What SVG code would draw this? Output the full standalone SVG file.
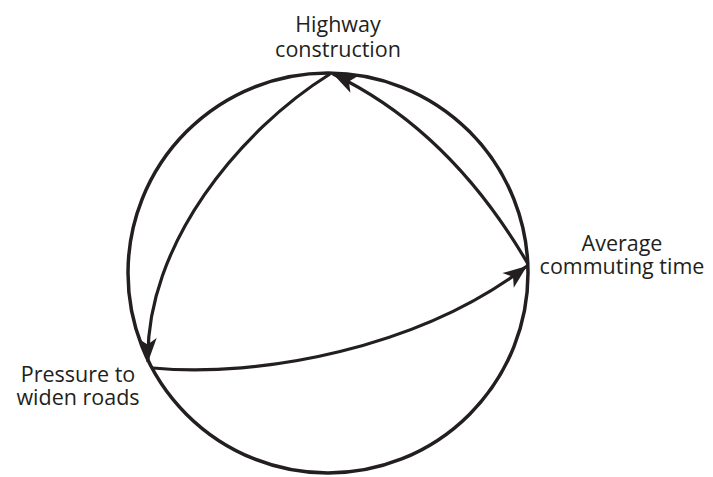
<svg xmlns="http://www.w3.org/2000/svg" width="713" height="477" viewBox="0 0 713 477">
<style>
.lbl{font-family:"Open Sans","Liberation Sans",sans-serif;font-size:21.5px;fill:#231f20;text-anchor:middle}
.edge{fill:none;stroke:#231f20;stroke-width:3.2}
.ring{fill:none;stroke:#231f20;stroke-width:3.5}
</style>
<defs>
<marker id="ah" markerUnits="userSpaceOnUse" markerWidth="30" markerHeight="30" viewBox="-26 -13 29 26" refX="0" refY="0" orient="auto">
<path d="M0,0 L-23,-9 L-17,0 L-23,9 Z" fill="#231f20"/>
</marker>
</defs>
<rect width="713" height="477" fill="#fff"/>
<circle class="ring" cx="328" cy="273" r="200"/>
<g id="connectors">
<path class="edge" d="M330,74 C240,130 145,245 148,362" marker-end="url(#ah)"/>
<path class="edge" d="M528,264 Q450,130 333,74" marker-end="url(#ah)"/>
<path class="edge" d="M153,368 C260,378 420,348 527,266" marker-end="url(#ah)"/>
</g>
<g id="highway"><text class="lbl" x="338" y="32">Highway</text><text class="lbl" x="338" y="57">construction</text></g>
<g id="commute"><text class="lbl" x="622" y="251">Average</text><text class="lbl" x="622" y="274">commuting time</text></g>
<g id="pressure"><text class="lbl" x="78" y="382">Pressure to</text><text class="lbl" x="78" y="405">widen roads</text></g>
</svg>
